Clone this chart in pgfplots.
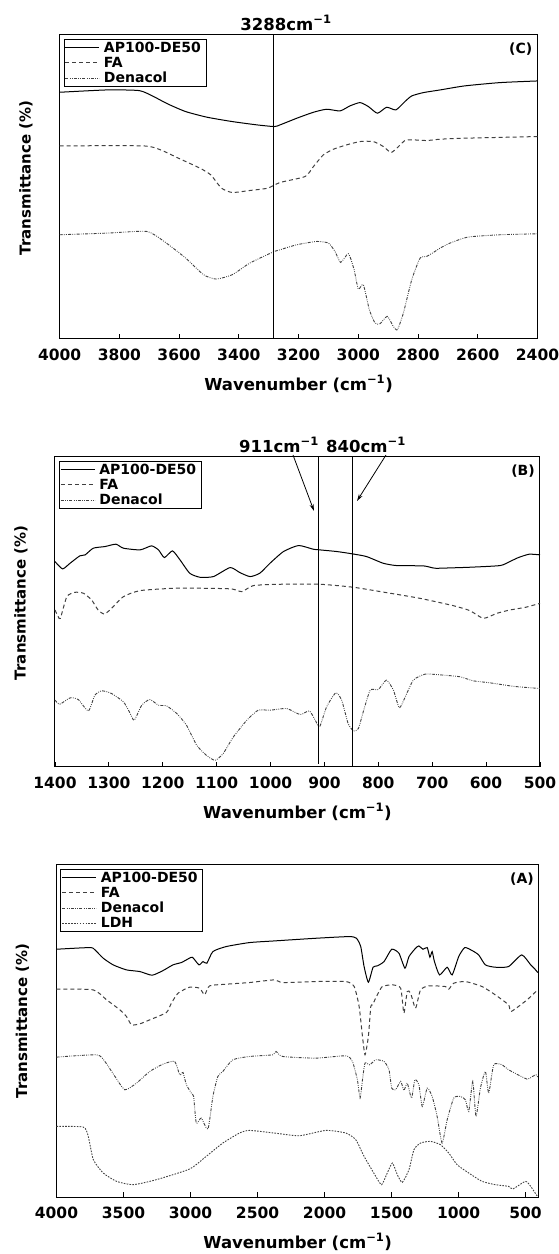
\documentclass[border=0pt]{standalone}
\usepackage{fontspec}
\setmainfont{DejaVu Sans}
\usepackage{pgfplots}
\pgfplotsset{compat=1.18}
\usetikzlibrary{arrows.meta}
\newcommand\tickfont{\fontsize{15.5}{17}\selectfont\bfseries}
\newcommand\labfont{\fontsize{16.5}{19}\selectfont\bfseries}
\newcommand\ylabfont{\fontsize{15}{17}\selectfont\bfseries}
\newcommand\legfont{\fontsize{14}{16}\selectfont\bfseries}
\pgfplotsset{
  ftir/.style={
    scale only axis,
    x dir=reverse,
    ytick=\empty,
    xtick pos=left,
    tick align=inside,
    major tick length=5pt,
    every tick/.style={black, line width=0.9pt},
    axis line style={line width=1pt},
    /pgf/number format/assume math mode=true,
    /pgf/number format/set thousands separator={},
    xticklabel style={font=\tickfont, anchor=center, yshift=-16pt},
    xlabel={Wavenumber (cm\textsuperscript{−1})},
    ylabel={Transmittance (\%)},
    xlabel style={font=\labfont, at={(axis description cs:0.5,0)}, anchor=center, yshift=-45pt},
    ylabel style={font=\ylabfont, at={(axis description cs:-0.0705,0.53)}, anchor=center},
    legend cell align=left,
    legend style={font=\legfont, draw=black, line width=0.8pt, inner sep=1pt,
      at={(rel axis cs:0,1)}, anchor=north west, xshift=4pt, yshift=-4pt,
      nodes={inner xsep=1pt, inner ysep=1.6pt}, column sep=3pt},
    legend image code/.code={\draw[#1] (0pt,0pt) -- (34pt,0pt);},
    clip=false,
  },
  sAP/.style={black, line width=1pt, smooth, tension=0.35},
  sFA/.style={black!75, line width=1pt, dash pattern=on 4pt off 3pt, smooth, tension=0.35},
  sDe/.style={black!75, line width=0.9pt, dash pattern=on 3pt off 1.3pt on 0.8pt off 1.3pt on 0.8pt off 1.3pt, smooth, tension=0.35},
  sLDH/.style={black!75, line width=0.9pt, dash pattern=on 1.6pt off 1.3pt, smooth, tension=0.35},
  vline/.style={black, line width=1pt, forget plot},
}
\begin{document}
\begin{tikzpicture}
\useasboundingbox (0pt,0pt) rectangle (559pt,1254pt);

% ---------------- Panel C ----------------
\begin{axis}[ftir, at={(59.6pt,915pt)}, anchor=south west, width=477.9pt, height=304pt,
  xmin=2400, xmax=4000, ymin=0, ymax=913, xtick={2400,2600,...,4000}]
\addplot[sAP] coordinates {(4000,741) (3841,748) (3733,746) (3685,728) (3638,706) (3578,683) (3506,666) (3422,653) (3339,643) (3281,638) (3262,643) (3206,663) (3150,681) (3106,690) (3061,685) (3028,700) (2994,710) (2966,698) (2936,678) (2905,696) (2874,688) (2844,713) (2821,730) (2782,740) (2726,748) (2645,760) (2526,770) (2400,775)};
\addlegendentry{\makebox[100pt][l]{AP100-DE50}}
\addplot[sFA] coordinates {(4000,580) (3721,580) (3662,568) (3602,543) (3530,513) (3494,493) (3458,453) (3422,440) (3363,446) (3303,453) (3262,470) (3178,488) (3150,518) (3117,553) (3083,570) (3039,583) (2994,593) (2950,593) (2916,578) (2891,560) (2871,573) (2844,596) (2816,598) (2771,596) (2726,600) (2645,603) (2400,608)};
\addlegendentry{FA}
\addplot[sDe] coordinates {(4000,313) (3841,318) (3709,323) (3650,293) (3578,243) (3518,193) (3476,180) (3422,193) (3363,228) (3281,263) (3262,268) (3206,283) (3139,293) (3100,288) (3078,263) (3059,230) (3033,256) (3014,208) (3000,150) (2983,163) (2963,88) (2944,48) (2927,46) (2903,68) (2883,38) (2869,28) (2849,78) (2821,178) (2793,243) (2771,248) (2743,263) (2726,273) (2693,288) (2633,306) (2526,313) (2400,316)};
\addlegendentry{Denacol}
\addplot[vline] coordinates {(3285,0) (3285,913)};
\node[font=\legfont, anchor=north east, inner sep=0pt, xshift=-5pt, yshift=-8pt] at (rel axis cs:1,1) {(C)};
\end{axis}

% ---------------- Panel B ----------------
\begin{axis}[ftir, at={(55pt,487pt)}, anchor=south west, width=485pt, height=310pt,
  xmin=500, xmax=1400, ymin=0, ymax=928, xtick={500,600,...,1400}]
\addplot[sAP] coordinates {(1400,615) (1386,593) (1372,610) (1354,632) (1344,635) (1329,655) (1307,660) (1287,667) (1273,655) (1242,650) (1221,662) (1208,650) (1197,627) (1182,647) (1168,620) (1150,580) (1131,568) (1106,570) (1075,597) (1057,582) (1038,570) (1020,580) (1001,610) (976,645) (948,663) (921,652) (909,650) (877,645) (848,638) (822,630) (791,610) (766,603) (716,602) (695,595) (667,596) (630,598) (574,603) (556,615) (540,627) (520,637) (500,635)};
\addlegendentry{\makebox[100pt][l]{AP100-DE50}}
\addplot[sFA] coordinates {(1400,470) (1394,450) (1390,445) (1378,510) (1363,523) (1347,520) (1332,500) (1320,470) (1309,458) (1298,470) (1273,510) (1242,528) (1180,535) (1118,535) (1072,533) (1053,525) (1032,543) (983,547) (908,547) (846,538) (785,522) (723,505) (661,483) (630,468) (605,445) (580,460) (556,470) (527,478) (500,490)};
\addlegendentry{FA}
\addplot[sDe] coordinates {(1400,200) (1391,188) (1372,207) (1357,202) (1338,168) (1326,215) (1313,228) (1295,220) (1273,195) (1262,165) (1253,140) (1239,185) (1224,202) (1208,185) (1193,183) (1174,160) (1156,125) (1137,65) (1119,35) (1103,20) (1088,40) (1069,90) (1044,140) (1023,170) (1001,170) (970,175) (945,157) (928,168) (917,140) (909,120) (896,180) (879,222) (868,200) (856,130) (846,108) (837,115) (828,165) (815,230) (800,232) (785,260) (772,230) (761,177) (750,210) (735,260) (713,278) (679,275) (648,270) (624,258) (593,252) (556,243) (540,240) (500,235)};
\addlegendentry{Denacol}
\addplot[vline] coordinates {(911,10) (911,928)};
\addplot[vline] coordinates {(847,0) (847,928)};
\node[font=\legfont, anchor=north east, inner sep=0pt, xshift=-5pt, yshift=-8pt] at (rel axis cs:1,1) {(B)};
\end{axis}

% ---------------- Panel A ----------------
\begin{axis}[ftir, at={(56.5pt,57pt)}, anchor=south west, width=482.5pt, height=332pt,
  xmin=400, xmax=4000, ymin=0, ymax=997, xtick={500,1000,...,4000}]
\addplot[sAP] coordinates {(4000,744) (3750,749) (3713,742) (3651,717) (3577,697) (3478,682) (3378,677) (3287,666) (3205,680) (3131,697) (3069,704) (3031,712) (2987,720) (2937,697) (2907,707) (2878,702) (2833,737) (2734,752) (2560,764) (2374,769) (2064,777) (1817,782) (1762,777) (1730,752) (1705,692) (1673,645) (1638,690) (1606,694) (1556,707) (1499,744) (1445,732) (1400,687) (1370,722) (1321,747) (1296,754) (1266,744) (1234,749) (1214,720) (1197,737) (1180,707) (1142,667) (1085,690) (1048,667) (999,722) (954,749) (899,740) (850,727) (800,697) (726,690) (627,692) (529,727) (462,697) (436,687) (409,674)};
\addlegendentry{\makebox[100pt][l]{AP100-DE50}}
\addplot[sFA] coordinates {(4000,624) (3726,622) (3626,592) (3527,562) (3478,542) (3440,517) (3378,520) (3304,532) (3180,554) (3143,582) (3093,612) (3007,630) (2932,627) (2895,607) (2858,634) (2734,639) (2560,644) (2374,652) (2312,644) (2064,647) (1841,647) (1779,632) (1742,572) (1717,482) (1698,427) (1673,482) (1655,572) (1643,577) (1606,607) (1569,632) (1494,637) (1432,627) (1408,552) (1383,617) (1358,612) (1321,567) (1284,622) (1222,634) (1098,632) (1073,624) (1036,642) (949,647) (825,632) (726,607) (627,577) (608,557) (489,592) (449,607) (409,622)};
\addlegendentry{FA}
\addplot[sDe] coordinates {(4000,420) (3701,427) (3639,407) (3564,362) (3490,322) (3403,342) (3304,377) (3205,399) (3118,407) (3081,367) (3056,374) (3031,337) (2994,312) (2977,302) (2957,222) (2920,237) (2870,204) (2833,302) (2796,362) (2759,377) (2684,412) (2560,422) (2387,427) (2362,437) (2312,422) (2064,417) (1841,424) (1792,407) (1755,352) (1735,297) (1717,352) (1698,402) (1663,397) (1618,412) (1556,407) (1519,382) (1499,327) (1470,322) (1432,347) (1408,320) (1383,342) (1351,297) (1326,352) (1296,337) (1271,272) (1234,327) (1197,302) (1160,242) (1123,162) (1085,232) (1036,297) (987,302) (949,292) (924,257) (894,347) (870,242) (837,327) (800,377) (775,312) (738,397) (676,397) (627,382) (489,354) (449,362) (422,367) (409,360)};
\addlegendentry{Denacol}
\addplot[sLDH] coordinates {(4000,212) (3800,210) (3763,182) (3725,112) (3651,72) (3552,47) (3428,37) (3255,52) (3007,84) (2883,122) (2759,162) (2635,192) (2560,200) (2374,192) (2188,184) (1990,200) (1841,192) (1767,172) (1705,122) (1618,62) (1574,37) (1532,72) (1494,102) (1457,67) (1420,44) (1370,82) (1333,142) (1284,162) (1209,167) (1135,157) (1073,132) (1011,97) (924,72) (825,47) (726,37) (627,32) (595,24) (502,47) (462,32) (409,0)};
\addlegendentry{LDH}
\node[font=\legfont, anchor=north east, inner sep=0pt, xshift=-5pt, yshift=-8pt] at (rel axis cs:1,1) {(A)};
\end{axis}

% ---------------- annotations ----------------
\node[font=\labfont, anchor=center] at (286pt,1231pt) {3288cm\textsuperscript{−1}};
\node[font=\labfont, anchor=center] at (279pt,809pt) {911cm\textsuperscript{−1}};
\node[font=\labfont, anchor=center] at (366pt,809pt) {840cm\textsuperscript{−1}};
\draw[line width=0.8pt, -{Stealth[length=7pt,width=4pt]}] (293pt,799pt) -- (314pt,743pt);
\draw[line width=0.8pt, -{Stealth[length=7pt,width=4pt]}] (386pt,799pt) -- (357pt,753pt);
\end{tikzpicture}
\end{document}
